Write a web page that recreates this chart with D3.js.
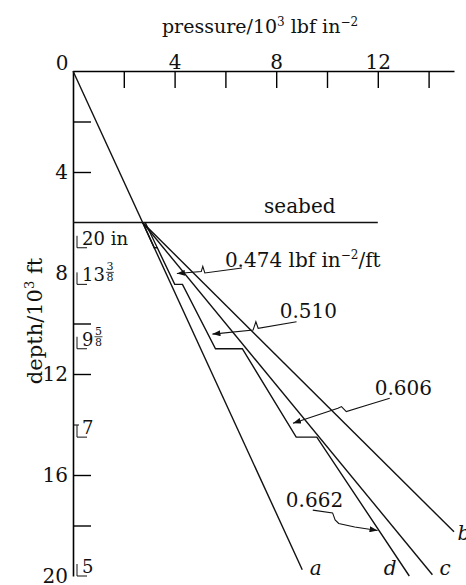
<!DOCTYPE html>
<html>
<head>
<meta charset="utf-8">
<script src="https://cdn.jsdelivr.net/npm/d3@7/dist/d3.min.js"></script>
<style>
  body { margin: 0; background: #fff; }
  svg text { font-family: "DejaVu Serif", serif; fill: #111; }
</style>
</head>
<body>
<svg id="chart" width="466" height="585"></svg>
<script>
// values: pressure in 10^3 lbf/in2, depth in 10^3 ft
var seabedDepth = 6;
var seabedEnd = 12;
var hydroGrad = 0.457;      // line a, from the surface
var lineAEnd = 19.75;
var lineB = [[2.74, 6], [15.0, 18.25]];
var lineC = [[2.74, 6], [14.15, 19.95]];
var mudGrads = [0.474, 0.510, 0.606, 0.662];
var mudLabels = ["0.474", "0.510", "0.606", "0.662"];
var shoeDepths = [7.0, 8.45, 11.0, 14.5, 20];
var casingSizes = ["20 in", "13", "9", "7", "5"];
var casingFracs = [null, ["3", "8"], ["5", "8"], null, null];
var xTickVals = [2, 4, 6, 8, 10, 12, 14];
var xLabelVals = [4, 8, 12];
var yTickVals = [2, 4, 10, 12, 16, 18];
var yShortTicks = [14];
var yLabelVals = [4, 8, 12, 16, 20];
var lineNames = ["a", "d", "c", "b"];

// leader lines (label -> arrow tip), pressure/depth units
var leaders = [
  [[6.65, 7.80], [5.19, 8.00], [5.11, 7.74], [5.05, 7.94], [4.09, 8.02]],
  [[8.80, 9.93], [7.29, 10.19], [7.20, 9.93], [7.09, 10.26], [5.49, 10.42]],
  [[12.47, 12.96], [11.6, 13.23], [10.76, 13.49], [10.57, 13.29], [10.43, 13.36], [8.66, 13.95]],
  [[9.44, 17.39], [10.22, 17.5], [10.32, 17.78], [10.46, 17.92], [11.09, 18.06], [11.99, 18.2]]
];

var svg = d3.select("#chart");

var x = d3.scaleLinear().domain([0, 15]).range([73, 454]);
var y = d3.scaleLinear().domain([0, 20]).range([71, 576]);

var line = d3.line().x(function (d) { return x(d[0]); }).y(function (d) { return y(d[1]); });

svg.append("defs").append("marker")
    .attr("id", "arrow")
    .attr("viewBox", "0 0 8 6")
    .attr("refX", 8).attr("refY", 3)
    .attr("markerWidth", 8).attr("markerHeight", 6)
    .attr("markerUnits", "userSpaceOnUse")
    .attr("orient", "auto")
    .append("path").attr("d", "M0,0L8,3L0,6z").attr("fill", "#111");

// Title
var title = svg.append("text")
    .attr("x", 260).attr("y", 33)
    .attr("text-anchor", "middle")
    .attr("font-size", 19);
title.append("tspan").text("pressure/10");
title.append("tspan").attr("font-size", 12).attr("dy", -7).text("3");
title.append("tspan").attr("dy", 7).text(" lbf in");
title.append("tspan").attr("font-size", 12).attr("dy", -7).text("\u22122");

// Top axis: ticks
var xAxis = svg.append("g")
    .attr("transform", "translate(0," + y(0) + ")")
    .call(d3.axisBottom(x).tickValues(xTickVals).tickSize(17).tickSizeOuter(0).tickFormat(""));
xAxis.select(".domain").attr("stroke-width", 1.6);
xAxis.selectAll(".tick line").attr("stroke-width", 1.4);

// Top axis: labels
var xLab = svg.append("g")
    .attr("transform", "translate(0," + y(0) + ")")
    .call(d3.axisTop(x).tickValues(xLabelVals).tickSize(0).tickPadding(2));
xLab.select(".domain").remove();
xLab.selectAll("text").attr("font-size", 20).attr("font-family", "DejaVu Serif").attr("fill", "#111");

// corner zero
svg.append("text")
    .attr("x", x(0) - 11).attr("y", y(0) - 1)
    .attr("text-anchor", "middle").attr("font-size", 20).text("0");

// Left axis: ticks
var yAxis = svg.append("g")
    .attr("transform", "translate(" + x(0) + ",0)")
    .call(d3.axisRight(y).tickValues(yTickVals).tickSize(18).tickSizeOuter(0).tickFormat(""));
yAxis.select(".domain").attr("stroke-width", 1.6);
yAxis.selectAll(".tick line").attr("stroke-width", 1.4);

svg.append("g")
    .attr("transform", "translate(" + x(0) + ",0)")
    .call(d3.axisRight(y).tickValues(yShortTicks).tickSize(6).tickFormat(""))
    .select(".domain").remove();

// Left axis: labels
var yLab = svg.append("g")
    .attr("transform", "translate(" + x(0) + ",0)")
    .call(d3.axisLeft(y).tickValues(yLabelVals).tickSize(0).tickPadding(5));
yLab.select(".domain").remove();
yLab.selectAll("text").attr("font-size", 20).attr("font-family", "DejaVu Serif").attr("fill", "#111");

// Y title
var yTitle = svg.append("text")
    .attr("transform", "translate(42,321) rotate(-90)")
    .attr("text-anchor", "middle")
    .attr("font-size", 21);
yTitle.append("tspan").text("depth/10");
yTitle.append("tspan").attr("font-size", 13).attr("dy", -8).text("3");
yTitle.append("tspan").attr("dy", 8).text(" ft");

// Seabed
svg.append("path")
    .attr("d", line([[0, seabedDepth], [seabedEnd, seabedDepth]]))
    .attr("stroke", "#111").attr("stroke-width", 1.4).attr("fill", "none");
svg.append("text")
    .attr("x", x(8.93)).attr("y", y(5.62))
    .attr("text-anchor", "middle").attr("font-size", 20).text("seabed");

// Lines a, b, c
var lineA = [[0, 0], [hydroGrad * lineAEnd, lineAEnd]];
[lineA, lineB, lineC].forEach(function (pts) {
    svg.append("path").attr("d", line(pts))
        .attr("stroke", "#111").attr("stroke-width", 1.4).attr("fill", "none");
});

// Mud-weight staircase (line d at the bottom)
var stair = [[hydroGrad * seabedDepth, seabedDepth], [hydroGrad * shoeDepths[0], shoeDepths[0]]];
mudGrads.forEach(function (g, i) {
    stair.push([g * shoeDepths[i], shoeDepths[i]]);
    stair.push([g * shoeDepths[i + 1], shoeDepths[i + 1]]);
});
svg.append("path").attr("d", line(stair))
    .attr("stroke", "#111").attr("stroke-width", 1.4).attr("fill", "none");
svg.append("path")
    .attr("d", line([[mudGrads[0] * seabedDepth, seabedDepth], [mudGrads[0] * shoeDepths[0], shoeDepths[0]]]))
    .attr("stroke", "#111").attr("stroke-width", 1.3).attr("fill", "none");

// Leaders
leaders.forEach(function (pts) {
    svg.append("path").attr("d", line(pts))
        .attr("stroke", "#111").attr("stroke-width", 1.1).attr("fill", "none")
        .attr("marker-end", "url(#arrow)");
});

// Gradient labels
var labelPos = [[5.98, 7.76], [8.14, 9.78], [11.88, 12.83], [8.38, 17.27]];
mudLabels.forEach(function (t, i) {
    var tx = svg.append("text")
        .attr("x", x(labelPos[i][0])).attr("y", y(labelPos[i][1]))
        .attr("font-size", 20);
    tx.append("tspan").text(t);
    if (i === 0) {
        tx.append("tspan").text(" lbf in");
        tx.append("tspan").attr("font-size", 12).attr("dy", -8).text("\u22122");
        tx.append("tspan").attr("dy", 8).text("/ft");
    }
});

// Line names
var namePos = [[9.32, 19.96], [12.23, 19.96], [14.43, 19.96], [15.14, 18.57]];
lineNames.forEach(function (n, i) {
    svg.append("text")
        .attr("x", x(namePos[i][0])).attr("y", y(namePos[i][1]))
        .attr("font-size", 20).attr("font-style", "italic").text(n);
});

// Casing shoes
shoeDepths.forEach(function (d, i) {
    var sy = y(d);
    var sx = x(0) + 4;
    svg.append("path")
        .attr("d", "M" + sx + "," + (sy - 12) + "V" + sy + "H" + (sx + 10))
        .attr("stroke", "#111").attr("stroke-width", 1).attr("fill", "none");
    var t = svg.append("text")
        .attr("x", sx + 5).attr("y", sy - 3)
        .attr("font-size", 18);
    var main = t.append("tspan").text(casingSizes[i]);
    var fr = casingFracs[i];
    if (fr) {
        // stacked fraction inside the same text element
        var fx = sx + 5 + main.node().getComputedTextLength() + 1;
        t.append("tspan").attr("x", fx + 0.5).attr("y", sy - 14)
            .attr("font-size", 11).text(fr[0]);
        t.append("tspan").attr("x", fx + 0.5).attr("y", sy - 3)
            .attr("font-size", 11).text(fr[1]);
        svg.append("line").attr("x1", fx).attr("x2", fx + 8)
            .attr("y1", sy - 12).attr("y2", sy - 12)
            .attr("stroke", "#111").attr("stroke-width", 0.8);
    }
});
</script>
</body>
</html>
